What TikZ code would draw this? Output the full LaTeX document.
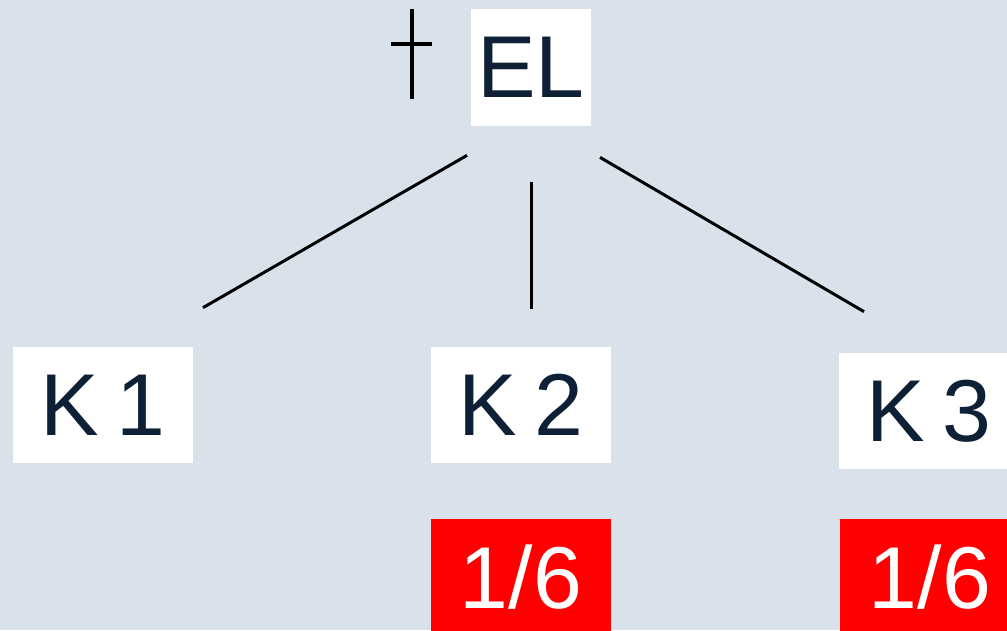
\documentclass[tikz,border=0pt]{standalone}
\usepackage{fontspec}
\setmainfont{Liberation Sans}
\usetikzlibrary{positioning}
\definecolor{bgC}{HTML}{D9E1EB}
\definecolor{inkC}{HTML}{0E2035}
\definecolor{redC}{HTML}{FF0000}

\begin{document}
\begin{tikzpicture}[
  x=0.02cm, y=-0.02cm,
  every node/.style={font=\fontsize{50}{60}\selectfont, text=inkC},
  kbox/.style={fill=white, minimum width=3.6cm, minimum height=2.32cm,
               inner sep=0pt},
  elbox/.style={fill=white, minimum width=2.4cm, minimum height=2.34cm,
                inner sep=0pt},
  probbox/.style={fill=redC, text=white, minimum width=3.6cm,
                  minimum height=2.32cm, inner sep=0pt},
  branch/.style={draw=black, line width=1.7pt},
  dagmark/.style={draw=black, line width=2.2pt},
]

% ── Canvas ──
\fill[bgC] (0,0) rectangle (1007,630);
\clip (0,0) rectangle (1007,630);

% ── Root ──
\node[elbox] (el) at (531,67.5) {EL};
\coordinate (dag) at (412,44);
\draw[dagmark] ([shift={(0,-35)}]dag) -- ([shift={(0,55)}]dag);
\draw[dagmark, line width=1.8pt] ([shift={(-21,0)}]dag) -- ([shift={(20,0)}]dag);

% ── Children ──
\node[kbox] (k1) at (103,405) {K\hspace{0.34cm}1};
\node[kbox] (k2) at (521,405) {K\hspace{0.34cm}2};
\node[kbox] (k3) at (929,411) {K\hspace{0.34cm}3};

% ── Probabilities ──
\node[probbox] (p2) at (521,577) {1/6};
\node[probbox] (p3) at (930,577) {1/6};

% ── Branches ──
\draw[branch] ([shift={(-64,29)}]el.south) -- ([shift={(100,-39)}]k1.north);
\draw[branch] ([shift={(0,56)}]el.south) -- ([shift={(10,-38)}]k2.north);
\draw[branch] ([shift={(69,31)}]el.south) -- ([shift={(-65,-41)}]k3.north);

\end{tikzpicture}
\end{document}
